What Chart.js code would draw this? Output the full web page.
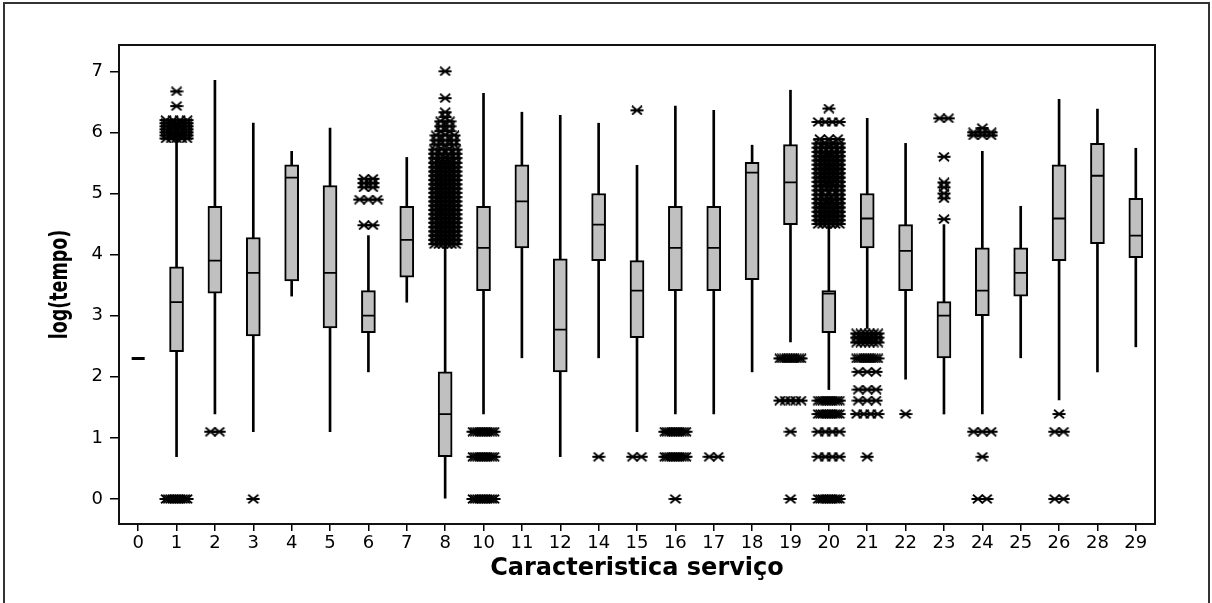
<!DOCTYPE html>
<html>
<head>
<meta charset="utf-8">
<script src="https://cdn.jsdelivr.net/npm/chart.js@4"></script>
<style>
  html, body { margin: 0; padding: 0; background: #fff; }
</style>
</head>
<body>
<canvas id="chart" width="1212" height="603"></canvas>
<script>
// --- Data: log(tempo) by service characteristic ---
const categories = ['0','1','2','3','4','5','6','7','8','10','11','12','14','15','16','17','18','19','20','21','22','23','24','25','26','28','29'];
const yTicks = [0, 1, 2, 3, 4, 5, 6, 7];

const q1      = [null, 2.41, 3.37, 2.67, 3.57, 2.80, 2.72, 3.63, 0.69, 3.41, 4.11, 2.08, 3.90, 2.64, 3.41, 3.41, 3.59, 4.49, 2.72, 4.11, 3.41, 2.31, 3.00, 3.32, 3.90, 4.18, 3.95];
const medians = [2.30, 3.22, 3.90, 3.70, 5.26, 3.70, 3.00, 4.24, 1.39, 4.11, 4.87, 2.77, 4.49, 3.41, 4.11, 4.11, 5.34, 5.18, 3.36, 4.59, 4.06, 3.00, 3.41, 3.70, 4.59, 5.29, 4.31];
const q3      = [null, 3.80, 4.79, 4.28, 5.47, 5.13, 3.41, 4.79, 2.08, 4.79, 5.47, 3.93, 5.00, 3.90, 4.79, 4.79, 5.51, 5.80, 3.41, 5.00, 4.49, 3.23, 4.11, 4.11, 5.47, 5.82, 4.92];
const whiskLo = [null, 0.69, 1.39, 1.10, 3.32, 1.10, 2.08, 3.22, 0.00, 1.39, 2.31, 0.69, 2.31, 1.10, 1.39, 1.39, 2.08, 2.57, 1.79, 2.79, 1.96, 1.39, 1.39, 2.31, 1.62, 2.08, 2.49];
const whiskHi = [null, 5.87, 6.85, 6.15, 5.69, 6.07, 4.31, 5.59, 4.18, 6.64, 6.33, 6.28, 6.15, 5.46, 6.43, 6.36, 5.79, 6.69, 4.46, 6.23, 5.82, 4.49, 5.69, 4.79, 6.54, 6.38, 5.74];

// outliers per category: [value, how many share that value]
const outliers = [
  [],
  [[0, 10], [5.90, 5], [5.95, 5], [6.00, 4], [6.05, 4], [6.10, 5], [6.15, 5], [6.20, 4], [6.43, 1], [6.67, 1]],
  [[1.10, 2]],
  [[0, 1]],
  [],
  [],
  [[4.48, 2], [4.90, 3], [5.10, 2], [5.17, 2], [5.24, 2]],
  [],
  [[7.00, 1], [6.56, 1], [6.33, 1], [6.25, 1], [6.18, 2], [6.10, 2], [6.02, 2], [5.95, 3], [5.87, 3], [5.80, 3],
   [5.72, 4], [5.65, 4], [5.58, 5], [5.50, 6], [5.43, 6], [5.36, 6], [5.29, 6], [5.22, 6], [5.15, 6], [5.08, 6],
   [5.01, 6], [4.94, 6], [4.87, 6], [4.80, 6], [4.73, 6], [4.66, 6], [4.59, 6], [4.52, 6], [4.45, 6], [4.38, 6],
   [4.31, 6], [4.24, 6], [4.17, 6]],
  [[0, 10], [0.69, 10], [1.10, 10]],
  [],
  [],
  [[0.69, 1]],
  [[0.69, 2], [6.36, 1]],
  [[0, 1], [0.69, 10], [1.10, 10]],
  [[0.69, 2]],
  [],
  [[0, 1], [1.10, 1], [1.61, 5], [2.30, 10]],
  [[0, 10], [0.69, 4], [1.10, 4], [1.39, 10], [1.61, 10],
   [4.50, 6], [4.56, 6], [4.63, 6], [4.70, 6], [4.77, 6], [4.84, 6], [4.91, 5], [4.98, 4], [5.05, 4], [5.12, 5],
   [5.19, 6], [5.26, 6], [5.33, 6], [5.40, 6], [5.47, 6], [5.54, 6], [5.61, 6], [5.68, 5], [5.75, 5], [5.82, 4],
   [5.89, 3], [6.17, 4], [6.39, 1]],
  [[0.69, 1], [1.39, 4], [1.61, 3], [1.79, 3], [2.08, 3], [2.30, 10], [2.56, 6], [2.64, 6], [2.71, 6]],
  [[1.39, 1]],
  [[4.58, 1], [4.92, 1], [5.00, 1], [5.10, 1], [5.18, 1], [5.60, 1], [6.23, 2]],
  [[0, 2], [0.69, 1], [1.10, 3], [5.95, 3], [6.00, 3], [6.07, 1]],
  [],
  [[0, 2], [1.10, 2], [1.39, 1]],
  [],
  []
];

// repeated outliers sit side by side, centred on the category
function outlierPoints() {
  const pts = [];
  outliers.forEach((rows, i) => {
    rows.forEach(([v, n]) => {
      const step = n > 1 ? Math.min(0.23, 0.55 / (n - 1)) : 0;
      for (let k = 0; k < n; k++) pts.push({ x: i + (k - (n - 1) / 2) * step, y: v });
    });
  });
  return pts;
}

// Minitab style asterisk symbol
function makeStar() {
  const c = document.createElement('canvas');
  c.width = 14; c.height = 10;
  const g = c.getContext('2d');
  g.strokeStyle = '#000';
  g.lineWidth = 1.8;
  g.beginPath();
  g.moveTo(0.5, 5); g.lineTo(13.5, 5);
  g.moveTo(2, 0.8); g.lineTo(12, 9.2);
  g.moveTo(2, 9.2); g.lineTo(12, 0.8);
  g.stroke();
  return c;
}

const FONT = "'DejaVu Sans', Verdana, sans-serif";

const framePlugin = {
  id: 'frame',
  beforeDraw(chart) {
    const ctx = chart.ctx;
    ctx.save();
    ctx.fillStyle = '#fff';
    ctx.fillRect(0, 0, chart.width, chart.height);
    ctx.strokeStyle = '#333';
    ctx.lineWidth = 2;
    ctx.beginPath();
    ctx.moveTo(4, 610); ctx.lineTo(4, 3); ctx.lineTo(1209, 3); ctx.lineTo(1209, 610);
    ctx.stroke();
    ctx.restore();
  },
  afterDraw(chart) {
    const { ctx, chartArea: a } = chart;
    ctx.save();
    ctx.strokeStyle = '#111';
    ctx.lineWidth = 2;
    ctx.strokeRect(a.left, a.top, a.right - a.left, a.bottom - a.top);

    ctx.fillStyle = '#000';
    ctx.font = "bold 24px " + FONT;
    ctx.textAlign = 'center';
    ctx.textBaseline = 'alphabetic';
    ctx.fillText('Caracteristica serviço', (a.left + a.right) / 2, 575);

    ctx.translate(67, (a.top + a.bottom) / 2);
    ctx.rotate(-Math.PI / 2);
    ctx.scale(0.73, 1);
    ctx.fillText('log(tempo)', 0, 0);
    ctx.restore();
  }
};

new Chart(document.getElementById('chart'), {
  type: 'bar',
  data: {
    labels: categories,
    datasets: [
      {
        // whiskers
        type: 'bar',
        data: whiskLo.map((v, i) => v == null ? null : [v, whiskHi[i]]),
        backgroundColor: '#000',
        borderWidth: 0,
        barThickness: 2,
        grouped: false,
        order: 4
      },
      {
        // boxes
        type: 'bar',
        data: q1.map((v, i) => v == null ? null : [v, q3[i]]),
        backgroundColor: '#c0c0c0',
        borderColor: '#000',
        borderWidth: 2,
        borderSkipped: false,
        barThickness: 14,
        grouped: false,
        order: 3
      },
      {
        // medians
        type: 'line',
        data: medians,
        showLine: false,
        pointStyle: 'line',
        pointRadius: 6.5,
        pointBorderColor: '#000',
        pointBorderWidth: c => c.dataIndex === 0 ? 3 : 1.8,
        order: 2
      },
      {
        type: 'scatter',
        xAxisID: 'xo',
        data: outlierPoints(),
        pointStyle: makeStar(),
        pointRadius: 5,
        order: 1
      }
    ]
  },
  options: {
    responsive: false,
    animation: false,
    events: [],
    layout: { padding: { left: 0, top: 45, right: 57, bottom: 0 } },
    plugins: { legend: { display: false }, tooltip: { enabled: false } },
    scales: {
      x: {
        type: 'category',
        offset: true,
        afterFit: s => { s.height = 79; },
        border: { display: false },
        grid: { offset: false, drawOnChartArea: false, drawTicks: true, tickLength: 7, color: '#000', lineWidth: 1.5 },
        ticks: { color: '#000', font: { family: FONT, size: 18 }, padding: 2, maxRotation: 0, autoSkip: false }
      },
      xo: {
        // same span as the category axis, so outliers can sit between slots
        type: 'linear',
        display: false,
        offset: false,
        min: -0.5,
        max: categories.length - 0.5
      },
      y: {
        type: 'linear',
        min: -0.41,
        max: 7.43,
        afterFit: s => { s.width = 119; },
        afterBuildTicks: s => { s.ticks = yTicks.map(v => ({ value: v })); },
        border: { display: false },
        grid: { drawOnChartArea: false, drawTicks: true, tickLength: 9, color: '#000', lineWidth: 1.5 },
        ticks: { color: '#000', font: { family: FONT, size: 18 }, padding: 7 }
      }
    }
  },
  plugins: [framePlugin]
});
</script>
</body>
</html>
